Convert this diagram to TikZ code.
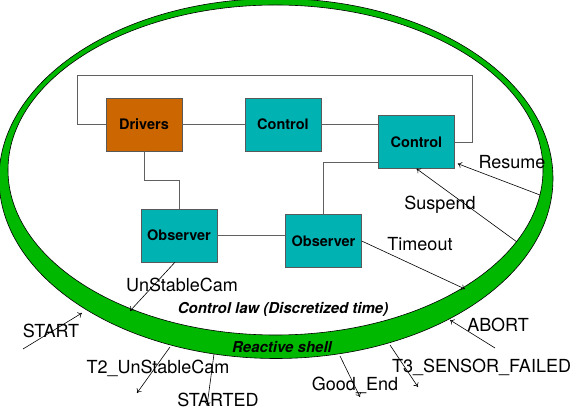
\documentclass[tikz,border=0pt]{standalone}
\usepackage{fontspec}
\setmainfont{TeX Gyre Heros}
\usepackage{tikz}
\usetikzlibrary{arrows.meta}
\usetikzlibrary{positioning}
\definecolor{drvorange}{RGB}{204,102,0}
\definecolor{ctrlteal}{RGB}{0,178,178}
\definecolor{shellgreen}{RGB}{0,184,0}

\begin{document}
\begin{tikzpicture}[x=1pt,y=-1pt,
                block/.style={rectangle, draw=gray!70!black, fill=ctrlteal, minimum width=76pt, minimum height=53pt, inner sep=0pt, font=\fontsize{14.5}{16}\selectfont\bfseries},
                wire/.style={draw=gray!75!black, line width=0.9pt},
                evt/.style={inner sep=0pt, text height=13pt, text depth=0pt, font=\fontsize{18}{20}\selectfont},
                zone/.style={inner sep=0pt, font=\fontsize{15}{17}\selectfont\bfseries\itshape},
                arrow/.style={draw, line width=0.6pt, -{To[length=4pt,width=6pt]}}
            ]
            \useasboundingbox (0,0) rectangle (570,411);
            \fill[shellgreen, draw=black, line width=0.6pt, even odd rule]
                (276,178.5) ellipse [x radius=277, y radius=180]
                (275.5,170) ellipse [x radius=267.5, y radius=165];

            \node[block, fill=drvorange](drivers) at (144,124.5) {Drivers};
            \node[block](ctrlA) at (283,124.5) {Control};
            \node[block](ctrlB) at (416.5,142) {Control};
            \node[block](obsA) at (179,235.5) {Observer};
            \node[block](obsB) at (323.5,241) {Observer};

            \coordinate (loopL) at (77,75);
            \coordinate (loopR) at (472,75);
            \path[wire] (drivers.west) -| (loopL) -- (loopR) |- (ctrlB.east);
            \path[wire] (drivers.east) -- (ctrlA.west);
            \path[wire] (ctrlA.east) -- (ctrlA.east -| ctrlB.west);
            \path[wire] (drivers.south) -- ++(0,29) -| (obsA.north);
            \path[wire] (obsA.east) -- (obsA.east -| obsB.west);
            \path[wire] ([yshift=-20pt]ctrlB.west) -| (obsB.north);

            \coordinate (rsm) at (540,195);
            \coordinate (sus) at (517,242);
            \coordinate (tmo) at (465,289);
            \coordinate (usc) at (130,311);
            \coordinate (strtOut) at (23,349);
            \coordinate (strtIn) at (82,313);
            \coordinate (t2In) at (170,347);
            \coordinate (t2Out) at (137,393);
            \coordinate (sdIn) at (214,354);
            \coordinate (sdOut) at (207,406);
            \coordinate (geIn) at (340,356);
            \coordinate (geOut) at (360,397);
            \coordinate (t3In) at (390,345);
            \coordinate (t3Out) at (418,387);
            \coordinate (abOut) at (495,348);
            \coordinate (abIn) at (450,320);

            \path[arrow] (rsm) -- ([xshift=3pt,yshift=5pt]ctrlB.south east);
            \path[arrow] (sus) -- (ctrlB.south);
            \path[arrow] (obsB.east) -- (tmo);
            \path[arrow] ([xshift=-4pt]obsA.south) -- (usc);
            \path[arrow] (strtOut) -- (strtIn);
            \path[arrow] (t2In) -- (t2Out);
            \path[arrow] (sdIn) -- (sdOut);
            \path[arrow] (geIn) -- (geOut);
            \path[arrow] (t3In) -- (t3Out);
            \path[arrow] (abOut) -- (abIn);

            \node[evt](lResume) at (512,162) {Resume};
            \node[evt](lSuspend) at (440,203) {Suspend};
            \node[evt](lTimeout) at (420,244) {Timeout};
            \node[evt](lUnstable) at (182,285) {UnStableCam};
            \node[evt](lStart) at (51,331) {START};
            \node[evt](lT2) at (158,367) {T2\_UnStableCam};
            \node[evt](lStarted) at (218,400) {STARTED};
            \node[evt](lGood) at (355,384) {Good\_End};
            \node[evt, anchor=west](lT3) at (392,366) {T3\_SENSOR\_FAILED};
            \node[evt](lAbort) at (498,325) {ABORT};
            \node[zone](law) at (283,309) {Control law (Discretized time)};
            \node[zone](shell) at (282,347) {Reactive shell};
        \end{tikzpicture}
\end{document}
